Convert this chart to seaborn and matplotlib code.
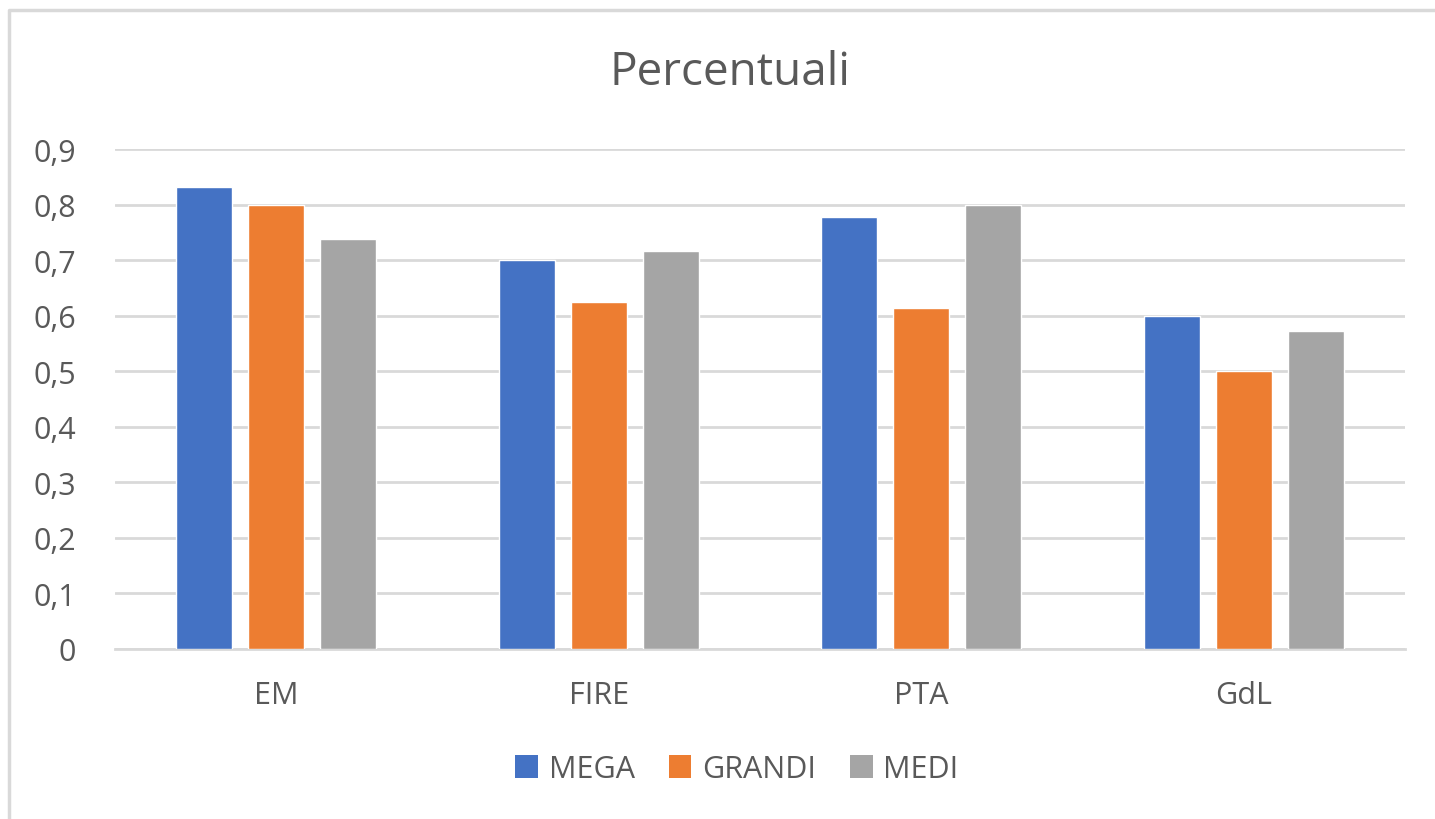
import pandas as pd
import matplotlib.pyplot as plt
import seaborn as sns
from matplotlib.lines import Line2D
from matplotlib.patches import Patch

# --- data ---
categories = ['EM', 'FIRE', 'PTA', 'GdL']
series = ['MEGA', 'GRANDI', 'MEDI']
mega = [0.832, 0.70, 0.777, 0.599]
grandi = [0.80, 0.624, 0.614, 0.50]
medi = [0.738, 0.716, 0.80, 0.572]
y_ticks = [0, 0.1, 0.2, 0.3, 0.4, 0.5, 0.6, 0.7, 0.8, 0.9]
y_tick_labels = ['0', '0,1', '0,2', '0,3', '0,4', '0,5', '0,6', '0,7', '0,8', '0,9']

colors = ['#4472C4', '#ED7D31', '#A5A5A5']
text_color = '#595959'
grid_color = '#D9D9D9'

df = pd.DataFrame({
    'cat': categories * 3,
    'serie': [s for s in series for _ in categories],
    'val': mega + grandi + medi,
})

sns.set_theme(style='white')
plt.rcParams['font.family'] = ['Open Sans', 'DejaVu Sans']

fig = plt.figure(figsize=(14.35, 8.2), dpi=100)
ax = fig.add_axes([115 / 1435, 170 / 820, 1290 / 1435, 500 / 820])

sns.barplot(data=df, x='cat', y='val', hue='serie', order=categories,
            hue_order=series, palette=colors, width=0.67, gap=0.22,
            saturation=1, ax=ax, legend=False, zorder=3)

ax.set_ylim(0, 0.9)
ax.set_xlim(-0.5, 3.5)
ax.set_yticks(y_ticks)
ax.set_yticklabels(y_tick_labels)
ax.set_xlabel('')
ax.set_ylabel('')
ax.yaxis.grid(True, color=grid_color, linewidth=2, zorder=0)
ax.set_axisbelow(True)
for side in ['top', 'right', 'left']:
    ax.spines[side].set_visible(False)
ax.spines['bottom'].set_color(grid_color)
ax.spines['bottom'].set_linewidth(2)
ax.tick_params(axis='both', length=0, colors=text_color, labelsize=22)
ax.tick_params(axis='y', pad=28)
ax.tick_params(axis='x', pad=22)

fig.text(730 / 1435, 1 - 73 / 820, 'Percentuali', ha='center', va='center',
         fontsize=33, color=text_color)

handles = [Patch(facecolor=c, edgecolor='none') for c in colors]
fig.legend(handles, series, loc='center', bbox_to_anchor=(737 / 1435, 50 / 820),
           ncol=3, frameon=False, fontsize=22, labelcolor=text_color,
           handlelength=0.75, handleheight=0.75, handletextpad=0.35,
           columnspacing=1.1)

# chart area frame (top and left edges visible)
fig.add_artist(Line2D([9 / 1435, 9 / 1435, 1], [0, 1 - 11 / 820, 1 - 11 / 820],
                      color=grid_color, linewidth=2.5, transform=fig.transFigure))

fig.savefig('out.png', dpi=100, facecolor='white')
